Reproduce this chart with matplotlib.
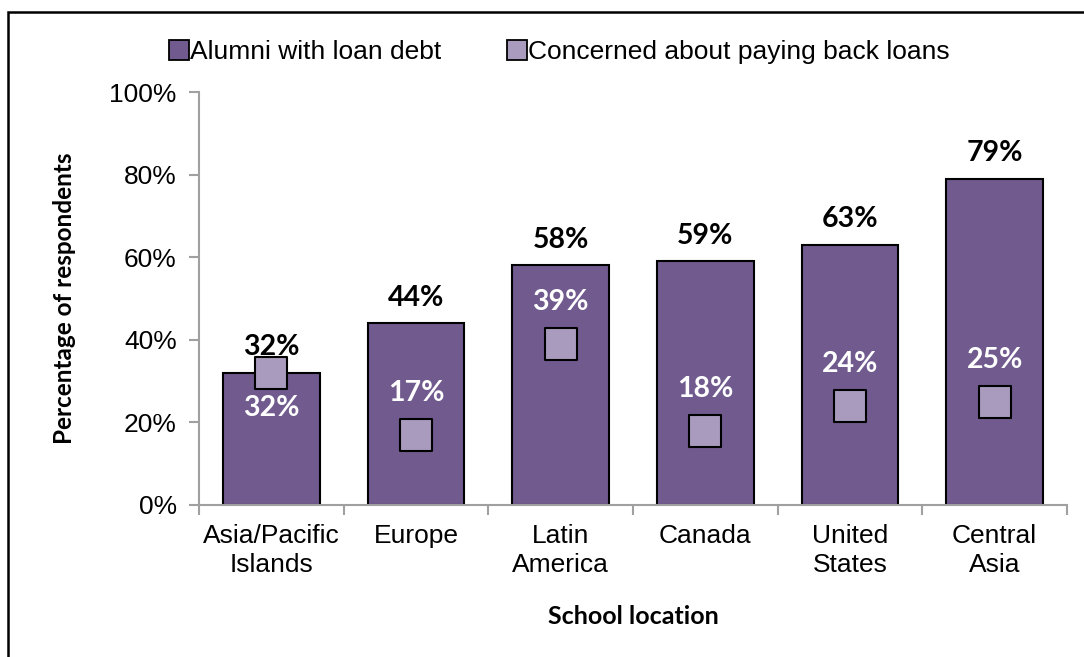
import matplotlib
matplotlib.use('Agg')
import matplotlib.pyplot as plt
from matplotlib.patches import Rectangle
from matplotlib.lines import Line2D
import numpy as np

# dati
locations = ['Asia/Pacific\nIslands', 'Europe', 'Latin\nAmerica', 'Canada', 'United\nStates', 'Central\nAsia']
loan_debt = [32, 44, 58, 59, 63, 79]
concerned = [32, 17, 39, 18, 24, 25]
series_names = ['Alumni with loan debt', 'Concerned about paying back loans']
y_ticks = [0, 20, 40, 60, 80, 100]

BAR_COLOR = '#705A8E'
MARK_COLOR = '#A99BBE'
AXIS_GRAY = '#A0A0A0'

fig = plt.figure(figsize=(10.84, 6.57), dpi=100)
ax = fig.add_axes([199 / 1084, 1 - 505 / 657, (1067 - 199) / 1084, (505 - 92) / 657])

x = np.arange(len(locations))
ax.bar(x, loan_debt, width=0.67, color=BAR_COLOR, edgecolor='black', linewidth=1.5, zorder=2)
ax.scatter(x, concerned, marker='s', s=520, color=MARK_COLOR, edgecolor='black', linewidth=1.5, zorder=3)

# etichette valori
for i, (b, c) in enumerate(zip(loan_debt, concerned)):
    ax.annotate(f'{b}%', (i, b), xytext=(0, 9), textcoords='offset points',
                ha='center', va='bottom', fontsize=20.5, fontweight='bold',
                family='Lato', color='black', zorder=4)
    if abs(b - c) < 5:
        ax.text(i, c - 8.5, f'{c}%', ha='center', va='center', fontsize=20.5,
                fontweight='bold', family='Lato', color='white', zorder=4)
    else:
        ax.text(i, c + 10.2, f'{c}%', ha='center', va='center', fontsize=20.5,
                fontweight='bold', family='Lato', color='white', zorder=4)

ax.set_xlim(-0.5, len(locations) - 0.5)
ax.set_ylim(0, 100)
ax.set_yticks(y_ticks)
ax.set_yticklabels([f'{v}%' for v in y_ticks], family='Liberation Sans', fontsize=19)
ax.set_xticks(x)
ax.set_xticklabels(locations, family='Liberation Sans', fontsize=19, linespacing=1.25)
ax.set_xticks(np.arange(len(locations) + 1) - 0.5, minor=True)
ax.tick_params(axis='x', which='major', length=0, pad=14)
ax.tick_params(axis='x', which='minor', length=7, color=AXIS_GRAY, width=1.5)
ax.tick_params(axis='y', length=7, color=AXIS_GRAY, width=1.5, pad=9)

for side in ['top', 'right']:
    ax.spines[side].set_visible(False)
for side in ['left', 'bottom']:
    ax.spines[side].set_color(AXIS_GRAY)
    ax.spines[side].set_linewidth(1.5)

ax.set_ylabel('Percentage of respondents', family='Lato', fontweight='bold', fontsize=17.5, labelpad=24)
ax.set_xlabel('School location', family='Lato', fontweight='bold', fontsize=18, labelpad=20)

# legenda in alto
handles = [
    Line2D([], [], marker='s', linestyle='none', markersize=14, markerfacecolor=BAR_COLOR,
           markeredgecolor='black', markeredgewidth=1.3),
    Line2D([], [], marker='s', linestyle='none', markersize=14, markerfacecolor=MARK_COLOR,
           markeredgecolor='black', markeredgewidth=1.3),
]
fig.legend(handles, series_names, loc='center', bbox_to_anchor=(0.517, 0.921), ncol=2,
           frameon=False, handlelength=0.6, handletextpad=0.1, columnspacing=2.6,
           prop={'family': 'Liberation Sans', 'size': 19})

# cornice esterna
fig.patches.append(Rectangle((8 / 1084, -0.1), 1.2, 1.1 - 12 / 657, transform=fig.transFigure,
                             fill=False, edgecolor='black', linewidth=1.8))

fig.savefig('out.png', dpi=100)
